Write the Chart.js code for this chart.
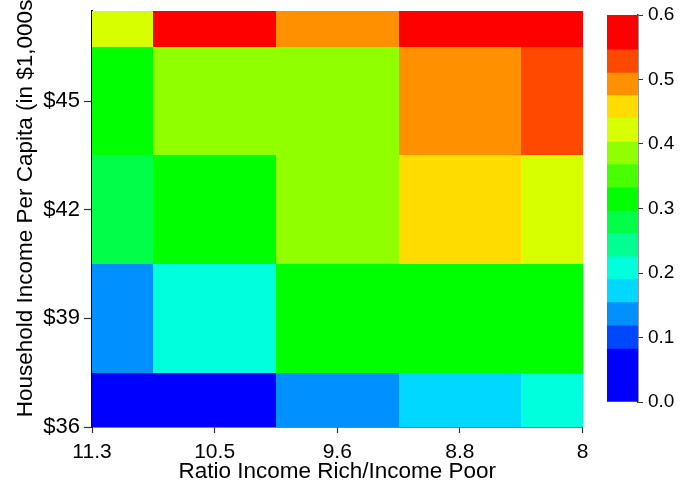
<!DOCTYPE html>
<html>
<head>
<meta charset="utf-8">
<script src="https://cdn.jsdelivr.net/npm/chart.js@4.4.0/dist/chart.umd.min.js"></script>
<style>
  html, body { margin: 0; padding: 0; background: #fff; }
  #wrap { position: relative; width: 681px; height: 483px; }
  #wrap canvas { position: absolute; left: 0; top: 0; }
</style>
</head>
<body>
<div id="wrap">
  <canvas id="heat" width="681" height="483"></canvas>
  <canvas id="bar" width="681" height="483"></canvas>
</div>
<script>
// Inequality ratio (x) against household income per capita (y, $1,000s)
const ratioLabels = ['11.3', '10.5', '9.6', '8.8', '8'];
const incomeLevels = [36, 39, 42, 45, 48];
const incomeTicks = [36, 39, 42, 45];
const incomeMax = 47.5;

// Cell values, one row per income level (bottom to top), columns follow ratioLabels
const row36 = [0.05, 0.05, 0.14, 0.17, 0.21];
const row39 = [0.14, 0.21, 0.31, 0.31, 0.31];
const row42 = [0.28, 0.31, 0.39, 0.46, 0.42];
const row45 = [0.31, 0.39, 0.39, 0.49, 0.53];
const row48 = [0.42, 0.57, 0.49, 0.57, 0.57];
const rows = [row36, row39, row42, row45, row48];

// Discrete colour scale
const levelBounds = [0, 0.082, 0.118, 0.154, 0.19, 0.225, 0.261, 0.296, 0.332, 0.368, 0.403, 0.44, 0.475, 0.51, 0.546, 0.6];
const levelColors = ['#0000ff', '#0048ff', '#0090ff', '#00d8ff', '#00ffdc', '#00ff90', '#00ff48', '#00ff00',
                     '#48ff00', '#90ff00', '#d8ff00', '#ffdc00', '#ff9000', '#ff4800', '#ff0000'];
const barTicks = [0, 0.1, 0.2, 0.3, 0.4, 0.5, 0.6];

const yTitle = 'Household Income Per Capita (in $1,000s)';
const xTitle = 'Ratio Income Rich/Income Poor';

function colorFor(v) {
  for (let i = 0; i < levelColors.length; i++) {
    if (v >= levelBounds[i] && v < levelBounds[i + 1]) return levelColors[i];
  }
  return levelColors[levelColors.length - 1];
}

// cell edges sit halfway between neighbouring grid points, clipped to the axis range
function edges(centers, lo, hi) {
  const e = [lo];
  for (let i = 0; i < centers.length - 1; i++) e.push(Math.min(hi, (centers[i] + centers[i + 1]) / 2));
  e.push(hi);
  return e;
}

const FONT = 'Liberation Sans, Arial, Helvetica, sans-serif';

const cellPlugin = {
  id: 'cells',
  beforeDatasetsDraw(chart) {
    const { ctx, scales: { x, y } } = chart;
    const xi = ratioLabels.map((_, i) => i);
    const xe = edges(xi, 0, ratioLabels.length - 1).map(v => Math.round(x.getPixelForValue(v)));
    const ye = edges(incomeLevels, incomeLevels[0], incomeMax).map(v => Math.round(y.getPixelForValue(v)));
    ctx.save();
    rows.forEach((row, r) => {
      row.forEach((v, c) => {
        ctx.fillStyle = colorFor(v);
        ctx.fillRect(xe[c], ye[r + 1], xe[c + 1] - xe[c], ye[r] - ye[r + 1]);
      });
    });
    ctx.restore();
  }
};

// vertical axis title, set a little above the middle of the axis
const yTitlePlugin = {
  id: 'yTitle',
  afterDraw(chart) {
    const { ctx, scales: { y } } = chart;
    ctx.save();
    ctx.translate(31.5, (y.top + y.bottom) / 2 - 14);
    ctx.rotate(-Math.PI / 2);
    ctx.font = '22.5px ' + FONT;
    ctx.fillStyle = '#000';
    ctx.textAlign = 'center';
    ctx.textBaseline = 'alphabetic';
    ctx.fillText(yTitle, 0, 0);
    ctx.restore();
  }
};

new Chart(document.getElementById('heat'), {
  type: 'scatter',
  data: {
    datasets: [{
      data: rows.flatMap((row, r) => row.map((v, c) => ({ x: c, y: incomeLevels[r] }))),
      pointRadius: 0
    }]
  },
  options: {
    responsive: false,
    animation: false,
    events: [],
    layout: { padding: { top: 10.5, right: 98.5, left: 0, bottom: 0 } },
    plugins: { legend: { display: false }, tooltip: { enabled: false } },
    scales: {
      x: {
        type: 'linear', min: 0, max: ratioLabels.length - 1, z: 1,
        afterFit(s) { s.height = 56; s.paddingLeft = 0; s.paddingRight = 0; },
        afterBuildTicks(s) { s.ticks = ratioLabels.map((_, i) => ({ value: i })); },
        ticks: { callback: (v) => ratioLabels[v], color: '#000', font: { family: FONT, size: 21 }, padding: 7, maxRotation: 0, autoSkip: false },
        grid: { drawOnChartArea: false, tickLength: 6, color: '#333', tickWidth: 1.2 },
        border: { color: '#000', width: 1.5 },
        title: { display: true, text: xTitle, color: '#000', font: { family: FONT, size: 22.5 }, padding: { top: 0, bottom: -2 } }
      },
      y: {
        type: 'linear', min: incomeLevels[0], max: incomeMax, z: 1,
        afterFit(s) { s.width = 92; s.paddingTop = 0; s.paddingBottom = 0; },
        afterBuildTicks(s) { s.ticks = incomeTicks.map(v => ({ value: v })); },
        ticks: { callback: (v) => '$' + v, color: '#000', font: { family: FONT, size: 22 }, padding: 4 },
        grid: { drawOnChartArea: false, tickLength: 8, color: '#333', tickWidth: 1.2 },
        border: { color: '#000', width: 2 }
      }
    }
  },
  plugins: [cellPlugin, yTitlePlugin]
});

// Colour bar: one floating bar per colour band
new Chart(document.getElementById('bar'), {
  type: 'bar',
  data: {
    labels: [''],
    datasets: levelColors.map((col, i) => ({
      data: [[levelBounds[i], levelBounds[i + 1]]],
      backgroundColor: col,
      borderWidth: 0,
      grouped: false,
      barPercentage: 1,
      categoryPercentage: 1
    }))
  },
  options: {
    responsive: false,
    animation: false,
    events: [],
    layout: { padding: { top: 15, right: 0, left: 607, bottom: 81 } },
    plugins: { legend: { display: false }, tooltip: { enabled: false } },
    scales: {
      x: { display: false },
      y: {
        position: 'right', min: 0, max: 0.6, z: 1,
        afterFit(s) { s.width = 43; s.paddingTop = 0; s.paddingBottom = 0; },
        afterBuildTicks(s) { s.ticks = barTicks.map(v => ({ value: v })); },
        ticks: { callback: (v) => v.toFixed(1), color: '#000', font: { family: FONT, size: 19 }, padding: 5 },
        grid: { drawOnChartArea: false, tickLength: 5, color: '#333', tickWidth: 1 },
        border: { color: '#333', width: 1.5 }
      }
    }
  }
});
</script>
</body>
</html>
